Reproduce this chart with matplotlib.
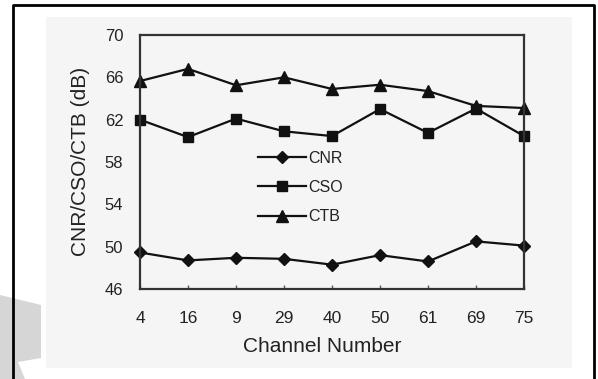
import matplotlib
matplotlib.use("Agg")
import matplotlib.pyplot as plt
from matplotlib.patches import Polygon, Rectangle
from matplotlib.lines import Line2D

channels = ["4", "16", "9", "29", "40", "50", "61", "69", "75"]
cnr = [49.45, 48.7, 48.95, 48.85, 48.3, 49.2, 48.6, 50.5, 50.1]
cso = [62.0, 60.35, 62.1, 60.9, 60.45, 63.0, 60.75, 63.05, 60.45]
ctb = [65.65, 66.8, 65.25, 66.0, 64.9, 65.3, 64.7, 63.3, 63.1]
yticks = [46, 50, 54, 58, 62, 66, 70]

W, H = 598, 379
plt.rcParams["font.family"] = ["Liberation Sans", "DejaVu Sans"]
fig = plt.figure(figsize=(W / 100, H / 100), dpi=100)
fig.patch.set_facecolor("white")


def fx(px):
    return px / W


def fy(py):
    return 1 - py / H


# scanned page area
fig.add_artist(Rectangle((fx(46), fy(368)), fx(572) - fx(46), fy(17) - fy(368),
                         transform=fig.transFigure, facecolor="#f5f5f5",
                         edgecolor="none", zorder=0))

# light grey shape at lower left
shape = [(0, 295), (41, 305), (41, 358), (18, 362), (25, 379), (0, 379)]
fig.add_artist(Polygon([(fx(x), fy(y)) for x, y in shape], closed=True,
                       transform=fig.transFigure, facecolor="#d6d6d6",
                       edgecolor="none", zorder=1))

# outer frame (open at the bottom)
fig.add_artist(Line2D([fx(13), fx(13), fx(594), fx(594)],
                      [fy(379), fy(5), fy(5), fy(379)],
                      transform=fig.transFigure, color="black", lw=2, zorder=2))

ax = fig.add_axes([fx(140), fy(289), fx(524) - fx(140), fy(35) - fy(289)])
ax.set_facecolor("none")
x = list(range(len(channels)))

ax.plot(x, cnr, color="#111111", lw=1.6, marker="D", ms=6, label="CNR", clip_on=False)
ax.plot(x, cso, color="#111111", lw=1.6, marker="s", ms=7, label="CSO", clip_on=False)
ax.plot(x, ctb, color="#111111", lw=1.6, marker="^", ms=8, label="CTB", clip_on=False)

ax.set_xlim(0, len(channels) - 1)
ax.set_ylim(46, 70)
ax.set_xticks(x)
ax.set_xticklabels(channels)
ax.set_yticks(yticks)
ax.tick_params(axis="x", direction="in", length=3, width=1, color="#555555",
               pad=16, labelsize=12.5, labelcolor="#222222")
ax.tick_params(axis="y", length=0, pad=12, labelsize=12, labelcolor="#222222")
for s in ax.spines.values():
    s.set_color("#333333")
    s.set_linewidth(1.6)

leg = ax.legend(loc="upper left", bbox_to_anchor=(fx(252) / (fx(524) - fx(140)) - fx(140) / (fx(524) - fx(140)), 0.57),
                frameon=False, fontsize=11.5, handlelength=3.0, handletextpad=0.1,
                labelspacing=0.9, borderaxespad=0)
for t in leg.get_texts():
    t.set_color("#222222")

fig.text(fx(80), fy(161), "CNR/CSO/CTB (dB)", rotation=90, ha="center", va="center",
         fontsize=15, color="#222222")
fig.text(fx(322), fy(347), "Channel Number", ha="center", va="center",
         fontsize=15, color="#222222")

fig.savefig("out.png", dpi=100)
